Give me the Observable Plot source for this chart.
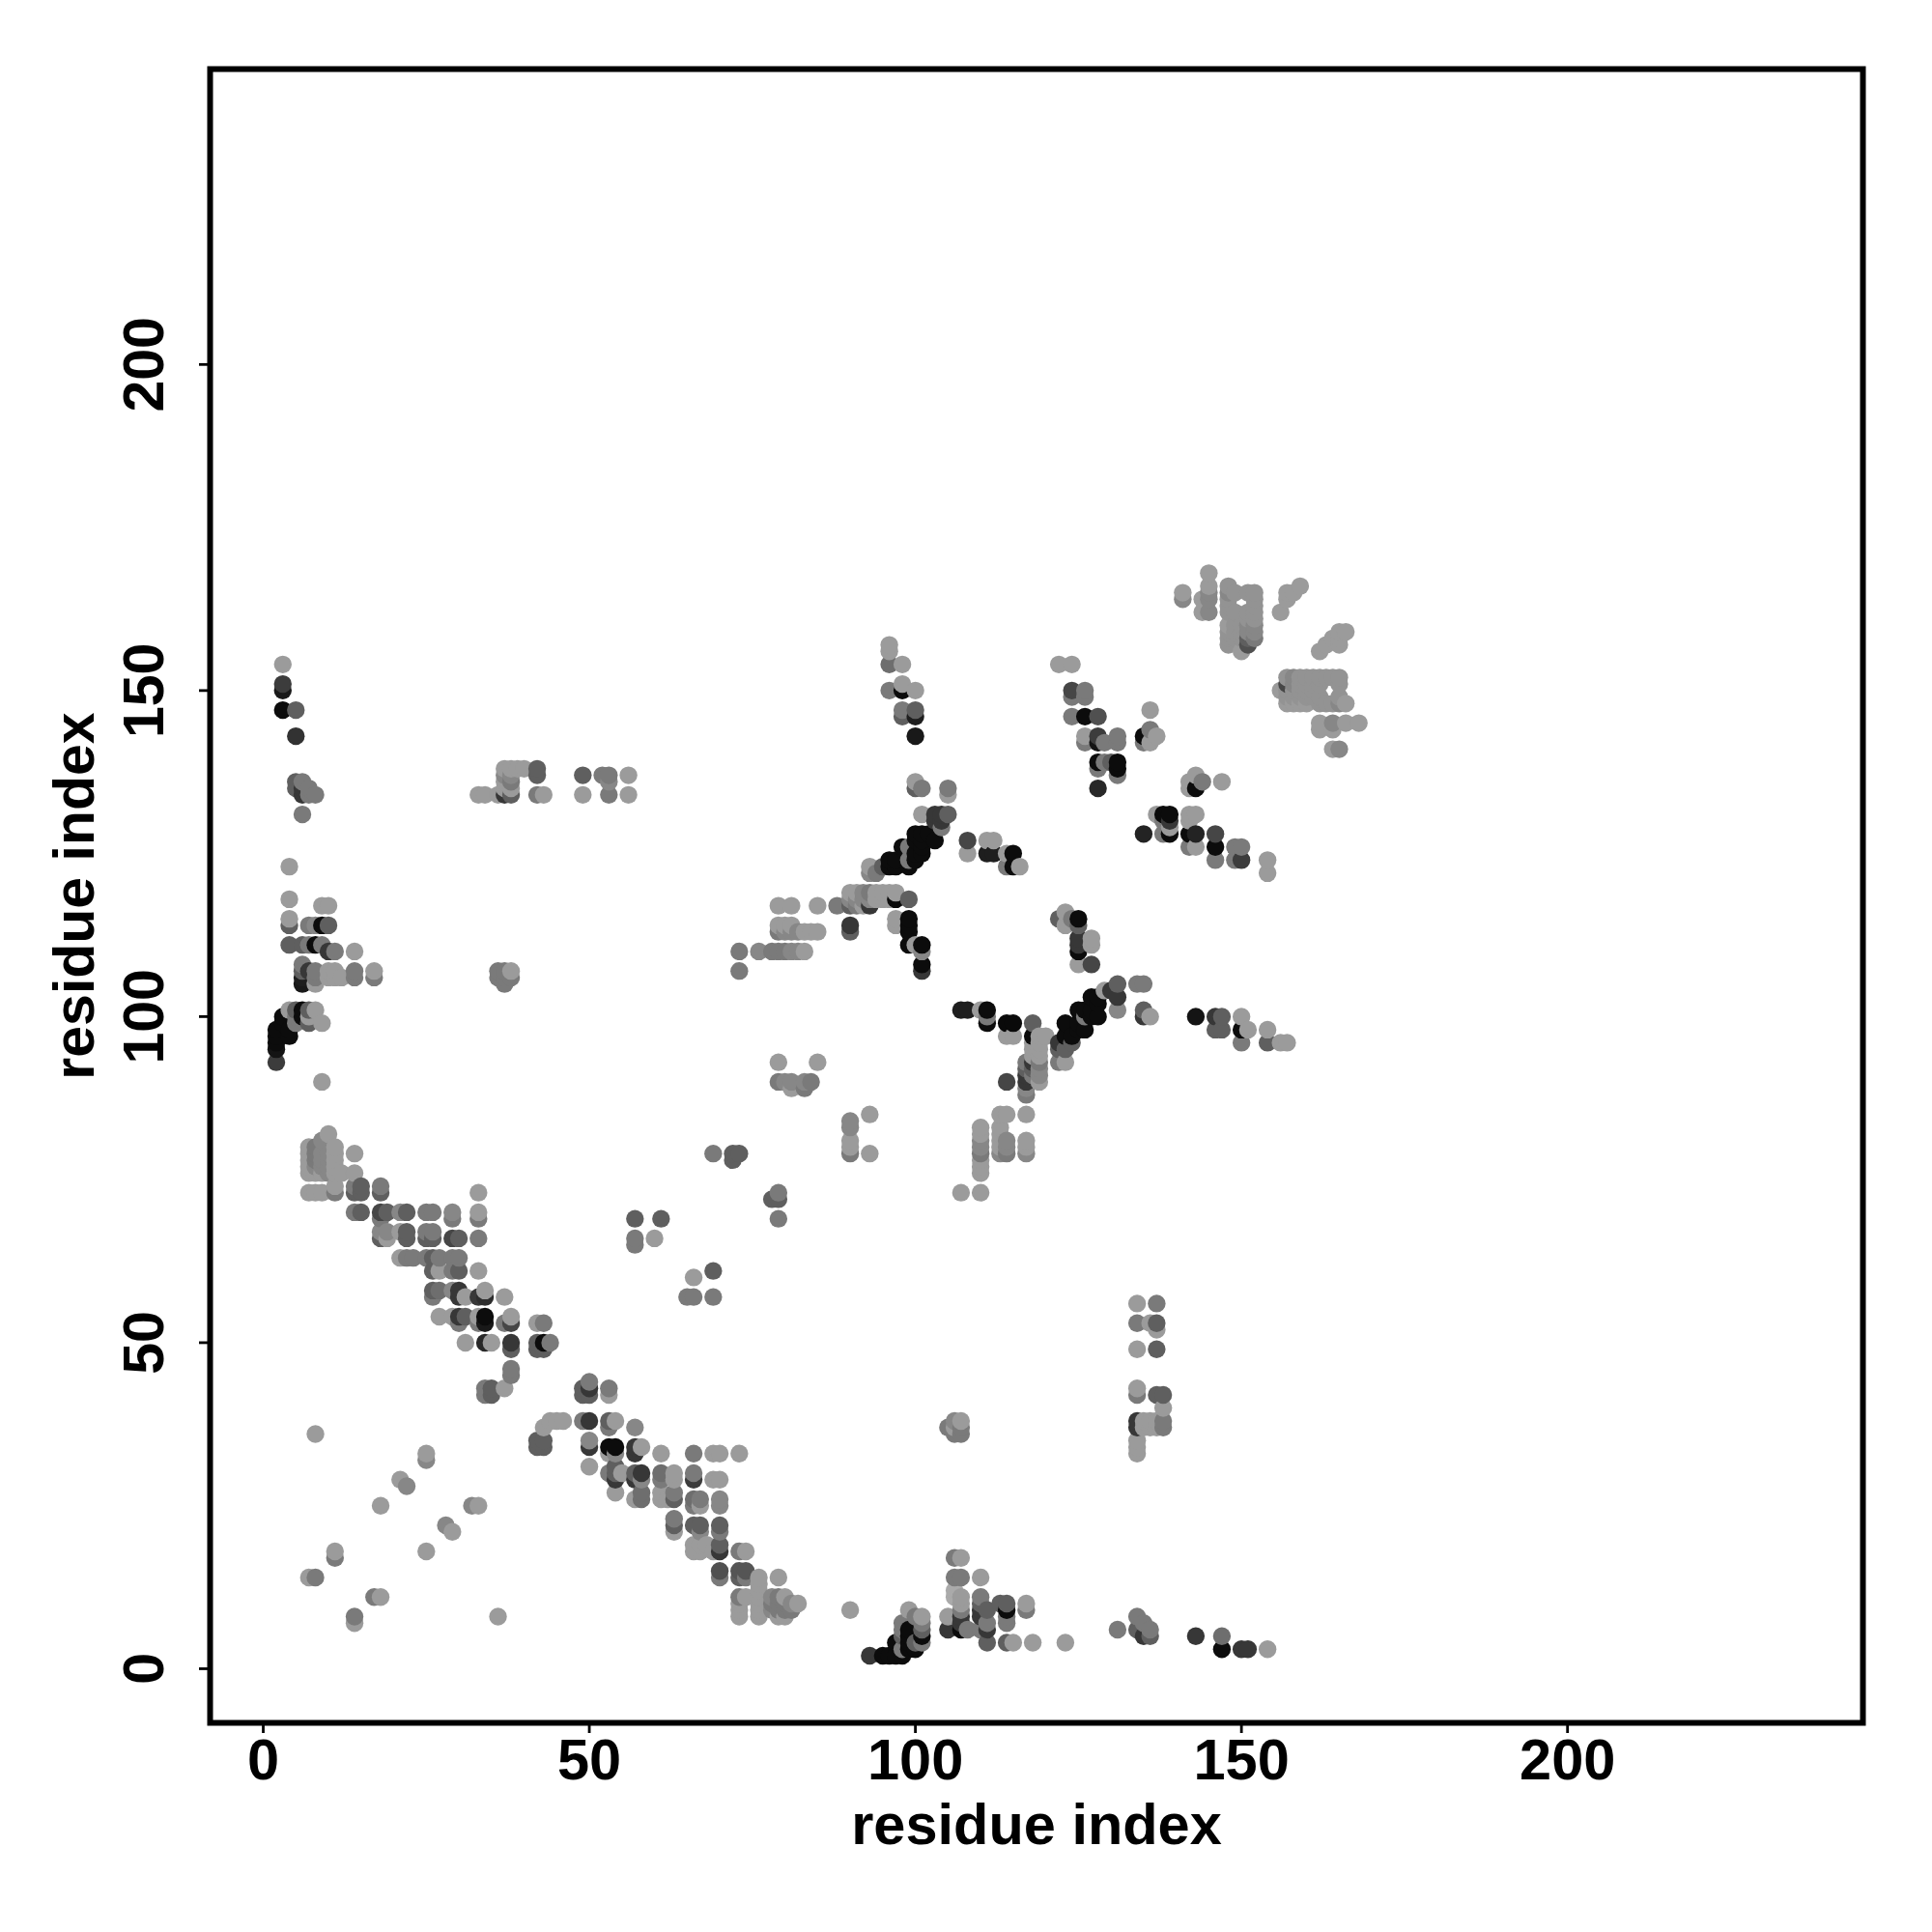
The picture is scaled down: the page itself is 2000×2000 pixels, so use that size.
<!DOCTYPE html>
<html><head><meta charset="utf-8">
<style>html,body{margin:0;padding:0;background:#fff}</style>
<script src="https://cdn.jsdelivr.net/npm/d3@7"></script>
<script src="https://cdn.jsdelivr.net/npm/@observablehq/plot@0.6"></script>
</head><body><div id="chart"></div>
<script>
// gray levels
const L=155,P=147,H=135,M=122,D=95,K=55,B=12;
const ticks=[0,50,100,150,200];
const axisLabel="residue index";
// [residue x, residue y, gray level]
const strays=[[8,36,L],[25,33,L],[25,32,H],[21,29,L],[22,28,H],[18,25,L],[32,25,H],[33,25,L],[28,22,H],[29,21,L],[25,18,L],[11,18,L],[11,17,M],[7,14,L],[8,14,M],[17,11,M],[18,11,L],[14,8,M],[14,7,L],[36,8,L]];
const bandMid=[[26,58,D],[27,58,110],[29,58,H],[30,58,K],[34,58,L],[26,57,M],[30,57,K],[31,57,L],[33,57,K],[34,57,45],[37,57,L],
[27,54,L],[29,54,L],[30,54,K],[31,54,D],[33,54,L],[34,54,B],[38,54,L],[30,53,M],[33,53,M],[34,53,25],[37,53,M],[38,53,70],[42,53,L],[43,53,M],
[31,50,L],[34,50,40],[35,50,L],[38,50,K],[42,50,D],[43,50,B],[44,50,M],[38,49,D],[42,49,D],[43,49,D],[38,46,M],[38,45,M],[34,43,M],[35,43,D],[37,43,L],[34,42,M],[35,42,D],[44,38,L],[43,37,L],[42,35,D],[43,35,D],[42,34,D],[43,34,D]];
const bandLow=[[50,44,M],[49,43,D],[50,43,K],[49,42,D],[50,42,D],[53,43,M],[53,42,L],[45,38,L],[46,38,L],[49,38,M],[50,38,K],[53,38,D],[54,38,L],[53,37,M],[57,37,H],[50,35,H],[50,34,K],[53,34,B],[54,34,B],[53,33,L],[54,33,H],[57,34,K],[57,33,K],[58,34,L],[61,33,L],[66,33,M],[69,33,L],[70,33,L],[73,33,L],[50,31,L],[53,30,M],[54,31,D],[54,30,D],[54,29,K],[55,30,L],[54,27,L],[57,30,D],[57,29,K],[58,30,K],[58,29,H],[57,26,L],[58,27,110],[58,26,110],[61,30,110],[61,29,M],[61,27,L],[61,26,L],[62,26,L],[63,30,L],[63,29,L],[63,27,M],[63,26,D],[63,23,M],[63,22,D],[63,21,L],[66,30,M],[66,29,60],[69,29,L],[70,29,L],[66,26,110],[67,26,M],[67,25,L],[66,25,M],[70,26,H],[70,25,H],[66,22,D],[67,22,D],[67,21,H],[66,19,L],[67,19,L],[66,18,L],[67,18,L],[68,19,L],[70,22,D],[70,21,M],[70,19,D],[70,18,K],[69,18,L],[73,18,M],[74,18,L],[70,15,80],[70,14,M],[73,15,85],[74,15,85],[73,14,D],[74,14,M],[76,14,L],[79,14,L],[73,11,M],[74,11,L],[73,10,L],[73,9,L],[73,8,L],[76,13,L],[76,12,L],[76,11,L],[76,10,L],[76,9,L],[76,8,L],[78,11,H],[78,10,M],[78,9,H],[79,11,M],[79,10,M],[79,9,M],[79,8,L],[80,11,L],[80,10,M],[80,9,M],[80,8,L],[81,10,H],[81,9,M],[82,10,L]];
const bottomMid=[[90,9,L],[105,37,M],[106,38,H],[107,38,L],[106,37,L],[107,37,M],[106,36,M],[107,36,M],[106,17,M],[107,17,L],[106,14,M],[107,14,M],[110,14,L],[106,12,170],[106,11,170],[107,11,L],[107,10,L],[107,9,M],[107,8,K],[107,7,K],[105,8,L],[105,6,K],[107,6,B],[108,6,M],[110,11,M],[110,10,D],[110,9,K],[110,8,K],[110,6,M],[111,9,D],[111,7,M],[111,6,K],[111,4,D],[113,10,D],[114,10,D],[114,9,B],[114,8,M],[114,7,M],[117,10,L],[117,9,M],[114,4,D],[115,4,L],[118,4,L],[123,4,L],[131,6,M],
[93,2,K],[95,2,B],[96,2,B],[97,2,B],[98,2,B],[97,4,B],[98,3,M],[99,9,L],[98,7,M],[98,6,M],[98,5,D],[99,6,B],[99,5,B],[99,4,B],[99,3,B],[100,3,B],[100,8,M],[100,4,D],[101,8,L],[101,7,M],[101,6,D],[101,5,B],[101,4,M]];
const rightCols=[[134,56,L],[137,56,M],[134,53,M],[136,53,L],[137,53,D],[137,52,L],[134,49,L],[137,49,D],[134,43,L],[134,42,M],[137,42,D],[138,42,D],[138,40,L],[138,38,M],[138,37,M],[137,38,L],[137,37,L],[134,38,K],[134,37,K],[135,38,L],[135,37,L],[136,38,L],[136,37,L],[134,35,L],[134,34,L],[134,33,L],[134,8,M],[135,7,M],[136,6,M],[134,6,D],[135,5,K],[136,5,D],[143,5,K],[147,5,110],[147,3,B],[150,3,K],[151,3,K],[154,3,L]];
const leftUpper=[[4,111,D],[6,111,D],[7,111,M],[8,111,B],[9,111,M],[10,110,K],[11,110,M],[14,110,L],[6,108,M],[6,107,D],[7,107,K],[8,107,M],[10,107,L],[11,107,L],[14,107,M],[17,107,L],[6,106,30],[8,106,M],[10,106,L],[11,106,L],[12,106,L],[14,106,M],[17,106,M],[6,105,25],[8,105,L],[36,107,M],[37,107,M],[38,107,L],[36,106,M],[37,106,M],[38,106,M],[37,105,M],
[4,101,L],[5,101,D],[6,101,B],[7,101,D],[8,101,L],[3,100,B],[5,100,M],[6,100,B],[7,100,L],[3,99,B],[5,99,M],[7,99,D],[9,99,L],[2,98,B],[4,98,B],[2,97,B],[4,97,B],[2,96,B],[2,95,20],[2,93,60],[9,90,L]];
const bandHigh=[[10,82,L],[9,81,H],[7,80,L],[8,80,M],[11,80,L],[14,79,L],[7,79,L],[8,79,M],[9,79,H],[10,79,H],[11,79,L],[7,78,L],[8,78,M],[9,78,H],[10,78,H],[11,78,L],[7,77,L],[8,77,H],[9,77,H],[10,77,H],[11,77,L],[7,76,L],[8,76,L],[9,76,L],[10,76,H],[11,76,L],[12,76,L],[14,76,L],[7,73,L],[8,73,L],[9,73,L],[11,74,L],[11,73,M],[14,74,M],[15,74,D],[14,73,D],[15,73,D],[18,74,M],[18,73,D],
[14,70,M],[15,70,D],[18,70,70],[19,70,D],[21,70,H],[22,70,D],[25,70,M],[26,70,M],[29,70,H],[33,70,L],[18,69,M],[29,69,M],[33,69,M],[33,73,L],[18,67,H],[19,67,H],[21,67,L],[22,67,D],[25,67,M],[26,67,M],[18,66,D],[19,66,L],[22,66,D],[25,66,D],[26,66,D],[29,66,70],[30,66,D],[33,66,M],[21,63,L],[22,63,M],[23,63,M],[25,63,M],[26,63,D],[27,63,M],[29,63,M],[30,63,M],[26,61,D],[27,61,L],[29,61,M],[30,61,D],[33,61,L]];
const scatterMid=[[73,110,M],[73,107,M],[76,110,H],[78,110,M],[79,110,M],[80,110,M],[81,110,H],[82,110,H],[83,110,L],[79,117,L],[81,117,L],[85,117,L],[79,114,L],[80,114,L],[81,114,L],[79,113,M],[80,113,H],[81,113,H],[82,113,H],[83,113,L],[84,113,L],[85,113,L],[79,93,L],[85,93,L],[79,90,M],[80,90,H],[81,90,H],[83,90,H],[84,90,M],[81,89,L],[83,89,M],[69,79,M],[72,79,D],[73,79,D],[72,78,D],[79,73,M],[78,72,D],[79,72,D],[79,69,M],[57,69,D],[61,69,D],[57,66,M],[57,65,M],[60,66,L],[69,61,D],[66,60,L],[65,57,M],[66,57,M],[69,57,M]];
const centerCross=[[90,113,D],[97,114,L],[99,113,B],[99,111,B],[100,111,L],[101,111,B],[101,110,H],[101,108,B],[101,107,K],[107,101,30],[108,101,30],[110,101,L],[111,101,B],[111,100,M],[111,99,B],[114,99,10],[115,99,10],[114,97,L],[115,97,L],[118,99,D],[118,97,B],[119,97,L],[120,97,L],[114,90,70],
[117,93,M],[117,92,D],[117,91,K],[117,90,K],[117,89,H],[117,88,M],[118,96,L],[118,95,L],[118,94,L],[118,93,K],[118,92,D],[118,91,M],[119,96,L],[119,95,L],[119,94,L],[119,93,M],[119,92,H],[119,91,H],[119,90,L],
[117,85,L],[113,85,L],[114,85,L],[110,83,L],[110,82,L],[110,81,H],[110,80,H],[110,79,M],[110,78,L],[110,77,L],[110,76,L],[110,73,L],[107,73,L],[113,83,L],[113,82,L],[113,81,L],[113,80,L],[113,79,H],[114,81,H],[114,80,H],[114,79,M],[117,81,L],[117,80,L],[117,79,H],
[90,84,H],[90,83,H],[90,81,L],[90,80,L],[90,79,M],[93,85,L],[93,79,L],
[122,96,K],[122,95,D],[122,93,M],[123,99,B],[123,97,B],[123,95,D],[123,93,L],[124,97,B],[124,96,D],[125,101,B],[125,99,B],[125,98,B],[126,101,B],[126,100,M],[126,98,B],[127,103,B],[127,101,B],[127,100,B],[128,103,B],[128,102,B],[128,100,B],[129,104,L],[130,104,K],[131,105,D],[131,103,K],[131,101,H],[125,108,L],[127,108,70],[125,112,K],[125,111,K],[125,110,B],[127,112,L],[127,111,L],[123,114,L],[125,114,D],
[134,105,M],[135,105,M],[135,101,D],[135,100,K],[136,100,L],[143,100,20],[146,100,K],[147,100,D],[146,98,D],[147,98,D],[150,100,L],[150,98,B],[151,98,L],[150,96,M],[154,98,L],[154,96,D],[156,96,L],[157,96,L]];
const topLeft=[[3,154,L],[3,151,60],[3,150,25],[3,147,B],[5,147,D],[5,143,50],[5,136,D],[6,136,M],[5,135,D],[6,135,K],[7,135,M],[6,134,K],[7,134,M],[8,134,M],[6,131,M],[4,123,L],[4,118,L],[9,117,L],[10,117,L],[4,115,L],[4,114,D],[7,114,M],[8,114,H],[9,114,B],[10,114,D],
[33,134,L],[34,134,L],[36,134,L],[37,134,K],[38,134,D],[37,135,L],[38,135,L],[37,138,L],[38,138,L],[37,137,H],[38,137,H],[37,136,L],[38,136,M],[39,138,L],[40,138,L],[42,138,D],[42,137,D],[42,134,M],[43,134,L],[49,137,D],[49,134,L],[52,137,M],[53,137,M],[53,136,H],[53,134,M],[56,137,L],[56,134,L]];
const diagUpper=[[96,157,L],[96,156,L],[96,154,110],[98,154,L],[96,150,M],[98,151,L],[98,150,B],[100,150,L],[98,147,M],[98,146,D],[100,147,D],[100,146,30],[100,143,25],[100,136,L],[100,135,D],[101,135,M],[105,135,M],[105,134,L],
[101,131,L],[103,131,K],[104,131,K],[105,131,D],[103,130,K],[104,130,K],[104,129,M],[103,127,B],[102,128,B],[101,128,B],[100,128,B],[101,127,B],[100,127,B],[101,126,B],[101,125,B],[100,125,B],[100,124,B],[99,126,M],[99,124,M],[98,126,B],[99,123,B],[97,124,B],[97,123,B],[96,124,B],[96,123,B],[93,123,L],[94,122,M],[95,123,D],[93,122,H],
[108,127,70],[108,125,L],[111,127,L],[112,127,L],[111,125,30],[112,125,30],[114,125,L],[115,125,B],[114,123,M],[115,123,B],[116,123,L],
[88,117,M],[90,119,L],[91,119,L],[92,119,H],[93,119,M],[94,119,L],[95,119,L],[96,119,L],[97,119,L],[90,118,H],[91,118,H],[92,118,H],[93,118,H],[94,118,L],[95,118,L],[96,118,L],[97,118,B],[99,118,D],[90,117,D],[91,117,M],[92,117,L],[93,117,K],[90,114,K],[97,115,L],[99,115,B],[99,114,B],[123,116,L],[124,115,M],[125,115,B],[122,115,D]];
const topRight=[[122,154,L],[124,154,L],[124,150,70],[124,149,M],[126,150,M],[126,149,M],[124,146,M],[126,146,B],[128,146,80],[126,143,L],[126,142,M],[128,143,60],[128,142,20],[129,142,M],[131,143,M],[131,142,M],[128,139,B],[128,138,M],[129,139,M],[130,139,D],[131,139,B],[131,138,B],[131,137,M],[128,135,40],
[136,147,L],[135,143,B],[135,142,M],[136,144,M],[136,142,L],[137,143,L],[143,137,L],[142,136,L],[144,136,M],[147,136,L],[143,135,B],[142,135,L],
[137,131,L],[138,131,B],[139,131,B],[139,130,K],[138,130,M],[139,129,L],[139,128,B],[138,128,M],[135,128,35],[142,131,L],[143,131,L],[142,130,L],[142,128,B],[143,128,35],[142,126,M],[143,126,L],[146,128,70],[146,126,B],[146,124,M],[149,126,M],[150,126,M],[149,124,M],[150,124,60],[154,124,L],[154,122,L],
[141,165,L],[141,164,H],[145,168,L],[145,166,L],[145,165,H],[145,164,H],[144,164,L],[144,162,L],[145,162,H]];
const cornerBlockA=[[148,166,P],[148,165,H],[148,164,P],[148,163,P],[148,162,P],[148,160,L],[148,159,P],[148,158,P],[148,157,P],[149,165,P],[149,162,P],[149,160,P],[149,159,P],[149,158,P],[150,160,P],[150,159,P],[150,158,P],[150,156,L],[151,165,P],[151,162,P],[151,161,P],[151,160,H],[151,159,H],[151,158,D],[151,157,80],[152,165,P],[152,164,P],[152,163,P],[152,162,P],[152,161,P],[152,160,H],[152,159,H],[152,158,M],[159,166,L],[158,165,L],[157,165,L],[157,164,L],[156,162,L],[166,159,L],[165,159,L],[165,158,L],[164,158,L],[165,157,L],[163,157,L],[162,156,L]];
const cornerBlockB=[[156,150,L],[157,152,P],[158,152,H],[159,152,P],[160,152,P],[161,152,P],[162,152,P],[163,152,P],[164,152,P],[165,152,P],[157,151,70],[158,151,H],[159,151,P],[160,151,P],[161,151,P],[162,151,P],[165,151,P],[157,150,P],[158,150,P],[159,150,P],[160,150,P],[161,150,P],[157,149,P],[158,149,P],[159,149,P],[160,149,P],[161,149,P],[162,149,P],[165,149,P],[157,148,L],[158,148,L],[159,148,L],[160,148,L],[162,148,P],[163,148,P],[164,148,P],[165,148,H],[166,148,L],[162,145,L],[164,145,H],[166,145,L],[168,145,L],[162,144,L],[164,144,L],[164,141,L],[165,141,H]];
const rows=d3.sort([...strays,...bandMid,...bandLow,...bottomMid,...rightCols,...leftUpper,...bandHigh,...scatterMid,...centerCross,...topLeft,...diagUpper,...topRight,...cornerBlockA,...cornerBlockB],d=>d[0],d=>d[1]);
const font="'Liberation Sans',Arial,sans-serif";
const plot=Plot.plot({
  width:2000,height:2000,marginLeft:217,marginRight:72,marginTop:71,marginBottom:217,
  style:{fontFamily:font,fontWeight:"bold",background:"#fff",color:"#000"},
  x:{domain:[-8.15,245.3],ticks:ticks},
  y:{domain:[-8.3,245.3],ticks:ticks},
  color:{type:"linear",domain:[0,255],range:["rgb(0,0,0)","rgb(255,255,255)"]},
  marks:[
    Plot.dot(rows,{x:d=>d[0],y:d=>d[1],r:9.2,fill:d=>d[2],stroke:"none"}),
    Plot.frame({stroke:"#000",strokeWidth:6}),
    Plot.axisX(ticks,{tickSize:11,strokeWidth:2.8,tickPadding:5,fontSize:58,label:axisLabel,labelAnchor:"center",labelArrow:"none",labelOffset:125,fontSize:59.5}),
    Plot.axisY(ticks,{tickSize:11,strokeWidth:2.8,tickPadding:38,fontSize:59,tickRotate:-90,label:axisLabel,labelAnchor:"center",labelArrow:"none",labelOffset:162})
  ]
});
document.getElementById("chart").appendChild(plot);
</script></body></html>
